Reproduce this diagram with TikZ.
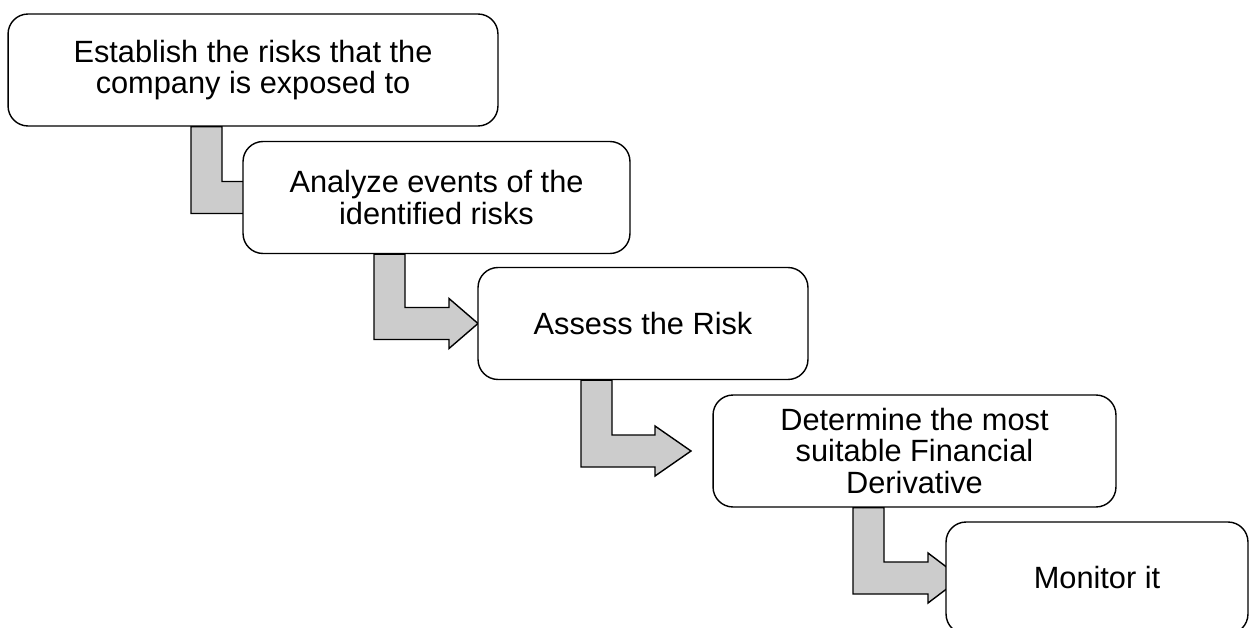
\documentclass[tikz,border=0pt]{standalone}
\usepackage{fontspec}
\setmainfont{Liberation Sans}
\usetikzlibrary{backgrounds}
\definecolor{ink}{RGB}{0,0,0}
\definecolor{shaftgray}{RGB}{204,204,204}
\tikzset{
  stepbox/.style={draw=ink,line width=0.8pt,rounded corners=0.4cm,fill=white,
    align=center,inner sep=0pt,minimum height=2.24cm,minimum width=#1,
    font=\fontsize{17.5}{18}\selectfont},
  steparrow/.style={draw=ink,line width=0.8pt,fill=shaftgray,line join=miter}
}
% bent connector: from box, to box, bar left x, head base, tip (both relative to bar)
\newcommand{\stepconn}[5]{%
  \begin{scope}[shift={(#3,0 |- #2.west)}]
    \draw[steparrow] (0,0 |- #1.south) -- (31,0 |- #1.south) -- (31,-16)
      -- (#4,-16) -- (#4,-25) -- (#5,0) -- (#4,25) -- (#4,16) -- (0,16) -- cycle;
  \end{scope}}

\begin{document}
\begin{tikzpicture}[x=0.02cm,y=-0.02cm]
  \useasboundingbox (0,0) rectangle (1253,628);
  \clip (0,0) rectangle (1253,628);

  \node[stepbox=9.8cm] (establish) at (253,70) {Establish the risks that the\\company is exposed to};
  \node[stepbox=7.74cm] (analyze) at (436.5,197.5) {Analyze events of the\\identified risks};
  \node[stepbox=6.6cm] (assess) at (643,323.5) {Assess the Risk};
  \node[stepbox=8.06cm] (determine) at (914.5,451) {Determine the most\\suitable Financial\\Derivative};
  \node[stepbox=6.04cm] (monitor) at (1097,578) {Monitor it};

  \begin{scope}[on background layer]
    \stepconn{establish}{analyze}{191}{57}{92}
    \stepconn{analyze}{assess}{374}{75}{104}
    \stepconn{assess}{determine}{581}{74}{110}
    \stepconn{determine}{monitor}{853}{75}{108}
  \end{scope}
\end{tikzpicture}
\end{document}
